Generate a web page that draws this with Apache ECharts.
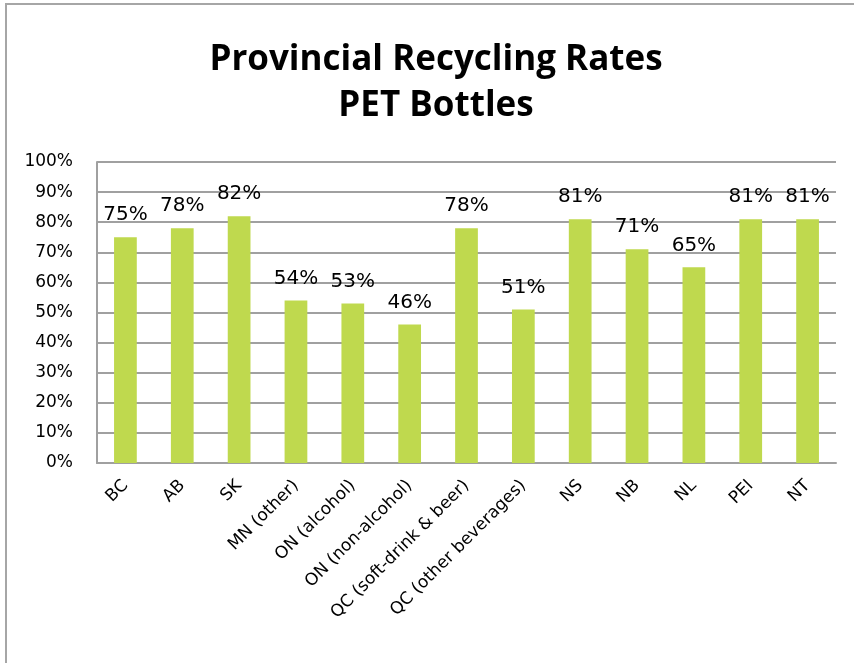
<!doctype html>
<html>
    <head>
        <meta charset="utf-8">
        <title>Provincial Recycling Rates - PET Bottles</title>
        <style>
            html, body { margin: 0; padding: 0; background: #fff; }
            #main { width: 854px; height: 663px; }
        </style>
    </head>
    <body>
        <div id="main"></div>
        <script src="https://cdn.jsdelivr.net/npm/echarts@6/dist/echarts.min.js"></script>

        <script>

            var categories = ['BC', 'AB', 'SK', 'MN (other)', 'ON (alcohol)', 'ON (non-alcohol)',
                'QC (soft-drink & beer)', 'QC (other beverages)', 'NS', 'NB', 'NL', 'PEI', 'NT'];
            var rates = [75, 78, 82, 54, 53, 46, 78, 51, 81, 71, 65, 81, 81];
            var titleLines = ['Provincial Recycling Rates', 'PET Bottles'];

            var myChart = echarts.init(document.getElementById('main'));
            var font = 'DejaVu Sans';

            var option = {
                animation: false,
                backgroundColor: '#fff',
                title: {
                    text: titleLines.join('\n'),
                    left: 431,
                    textAlign: 'center',
                    top: 32,
                    textStyle: {
                        fontFamily: 'Open Sans',
                        fontWeight: 'bold',
                        fontSize: 35,
                        lineHeight: 46,
                        color: '#000'
                    }
                },
                // frame: only top and left edges show in the picture
                graphic: [{
                    type: 'polyline',
                    shape: { points: [[6, 663], [6, 4], [854, 4]] },
                    style: { stroke: '#a6a6a6', lineWidth: 2, fill: null },
                    silent: true
                }],
                grid: {
                    left: 97,
                    right: 18,
                    top: 162,
                    bottom: 200
                },
                xAxis: {
                    type: 'category',
                    data: categories,
                    axisLine: { lineStyle: { color: '#a0a0a0', width: 2 } },
                    axisTick: { show: false },
                    axisLabel: {
                        interval: 0,
                        rotate: 45,
                        margin: 20,
                        fontFamily: font,
                        fontSize: 17,
                        color: '#000'
                    }
                },
                yAxis: {
                    type: 'value',
                    min: 0,
                    max: 100,
                    interval: 10,
                    axisLine: { show: true, lineStyle: { color: '#a0a0a0', width: 2 } },
                    axisTick: { show: false },
                    splitLine: { lineStyle: { color: '#a0a0a0', width: 2 } },
                    axisLabel: {
                        formatter: '{value}%',
                        margin: 24,
                        fontFamily: font,
                        fontSize: 17,
                        color: '#000'
                    }
                },
                series: [{
                    type: 'bar',
                    data: rates,
                    barWidth: '40%',
                    itemStyle: { color: '#bfd94e' },
                    label: {
                        show: true,
                        position: 'top',
                        distance: 12,
                        formatter: '{c}%',
                        fontFamily: font,
                        fontSize: 20,
                        color: '#000'
                    },
                    silent: true
                }]
            };

            myChart.setOption(option);

        </script>
    </body>
</html>
